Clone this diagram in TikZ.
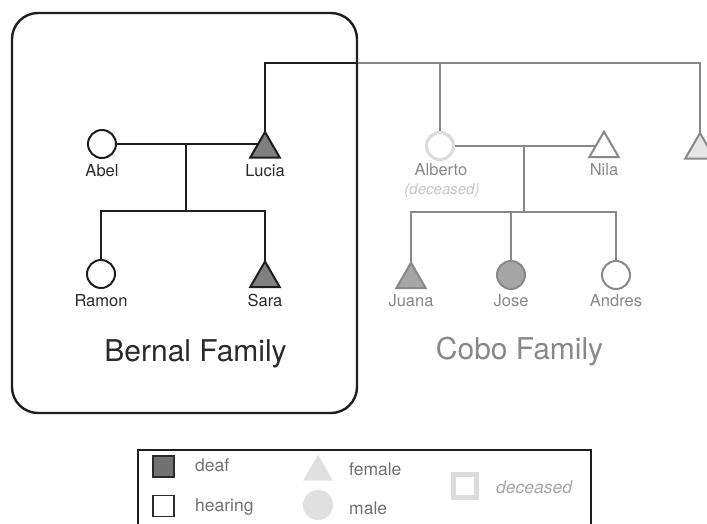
\documentclass[tikz,border=0pt]{standalone}
\usepackage{fontspec}
\setmainfont{TeX Gyre Heros}
\usetikzlibrary{shapes.geometric,backgrounds}
\definecolor{ink}{HTML}{1E1E1E}
\definecolor{txt}{HTML}{2A2A2A}
\definecolor{cobo}{HTML}{888888}
\definecolor{cobotxt}{HTML}{888888}
\definecolor{ring}{HTML}{DCDCDC}
\definecolor{deafB}{HTML}{7F7F7F}
\definecolor{deafC}{HTML}{A6A6A6}
\definecolor{legtxt}{HTML}{707070}
\definecolor{leggray}{HTML}{E0E0E0}
\tikzset{
  malebox/.style={circle,minimum size=28pt,inner sep=0pt,line width=2pt},
  femalebox/.style={regular polygon,regular polygon sides=3,minimum size=34pt,inner sep=0pt,line width=2pt},
  bline/.style={draw=ink,line width=2.2pt},
  cline/.style={draw=cobo,line width=2.2pt},
  lab/.style={anchor=base,inner sep=0pt,font=\fontsize{16.5}{19}\selectfont},
  fam/.style={anchor=base,inner sep=0pt,font=\fontsize{30}{34}\selectfont},
  leg/.style={anchor=base west,inner sep=0pt,font=\fontsize{17.5}{21}\selectfont,text=legtxt},
}
\begin{document}
\begin{tikzpicture}[x=1pt,y=-1pt]
\useasboundingbox (0,0) rectangle (707,523);
\clip (0,0) rectangle (707,523);
% Bernal family box
\node[draw=ink,line width=2.4pt,rounded corners=26pt,minimum width=345pt,minimum height=400pt,inner sep=0pt] (bernalbox) at (184.5,213) {};
% Bernal members
\node[malebox,draw=ink,fill=white] (abel) at (102,144) {};
\node[femalebox,draw=ink,fill=deafB] (lucia) at (265,149) {};
\node[malebox,draw=ink,fill=white] (ramon) at (101,274) {};
\node[femalebox,draw=ink,fill=deafB] (sara) at (265,278.5) {};
\coordinate (m1) at (186,144);
\coordinate (s1) at (186,211);
\coordinate (t1) at (357,63);
% Cobo members
\node[circle,minimum size=27pt,inner sep=0pt,line width=3.2pt,draw=ring,fill=white] (alberto) at (440,146) {};
\node[femalebox,draw=cobo,fill=white] (nila) at (604,148.7) {};
\node[femalebox,draw=cobo,fill=leggray!80] (rtri) at (700,150) {};
\node[femalebox,draw=cobo,fill=deafC] (juana) at (411,279.7) {};
\node[malebox,draw=cobo,fill=deafC] (jose) at (511,275) {};
\node[malebox,draw=cobo,fill=white] (andres) at (616,275) {};
\coordinate (m2) at (524,146);
\coordinate (s2) at (524,212);
\begin{scope}[on background layer]
  \draw[bline] (abel.center) -- (abel.center -| lucia.center);
  \draw[bline] (m1) -- (s1);
  \draw[bline] (ramon.center) |- (s1) -| (sara.center);
  \draw[bline] (lucia.center) |- (t1);
  \draw[cline] (t1) -| (rtri.center);
  \draw[cline] (alberto.center) -- (alberto.center |- t1);
  \draw[cline] (alberto.center) -- (alberto.center -| nila.center);
  \draw[cline] (m2) -- (s2);
  \draw[cline] (juana.center) |- (s2) -| (andres.center);
  \draw[cline] (jose.center) -- (jose.center |- s2);
\end{scope}
% labels
\node[lab,text=txt] (abelL) at (102,176) {Abel};
\node[lab,text=txt] (luciaL) at (265,176) {Lucia};
\node[lab,text=txt] (ramonL) at (101,306.5) {Ramon};
\node[lab,text=txt] (saraL) at (265,306.5) {Sara};
\node[fam,text=txt] (bernalL) at (195.5,361) {Bernal Family};
\node[lab,text=cobotxt] (albertoL) at (441,175) {Alberto};
\node[lab,text=ring!75!gray,font=\fontsize{15}{18}\selectfont\itshape] (albertoD) at (442,194) {(deceased)};
\node[lab,text=cobotxt] (nilaL) at (604,175) {Nila};
\node[lab,text=cobotxt] (juanaL) at (411,306.5) {Juana};
\node[lab,text=cobotxt] (joseL) at (511,306.5) {Jose};
\node[lab,text=cobotxt] (andresL) at (616,306.5) {Andres};
\node[fam,text=cobotxt] (coboL) at (519.5,359) {Cobo Family};
% legend
\node[draw=ink,line width=2.2pt,minimum width=453pt,minimum height=100pt,inner sep=0pt,anchor=north west] (legend) at (137,449) {};
\node[draw=txt,fill=deafB!110,line width=1.6pt,minimum size=21pt,inner sep=0pt] (kdeaf) at (163.5,466.7) {};
\node[draw=txt,fill=white,line width=1.6pt,minimum size=21pt,inner sep=0pt] (khear) at (163.5,506) {};
\node[leg] (tdeaf) at (195,471.7) {deaf};
\node[leg] (thear) at (195,511.7) {hearing};
\node[regular polygon,regular polygon sides=3,minimum size=34.6pt,inner sep=0pt,fill=leggray] (kfem) at (318,472) {};
\node[circle,minimum size=30pt,inner sep=0pt,fill=leggray] (kmale) at (318,505) {};
\node[leg] (tfem) at (349,475) {female};
\node[leg] (tmale) at (349,514) {male};
\node[draw=ring,fill=white,line width=5pt,minimum size=23.6pt,inner sep=0pt] (kdec) at (465,486) {};
\node[leg,text=gray!70,font=\fontsize{17.5}{21}\selectfont\itshape] (tdec) at (496,493.3) {deceased};
\end{tikzpicture}
\end{document}
